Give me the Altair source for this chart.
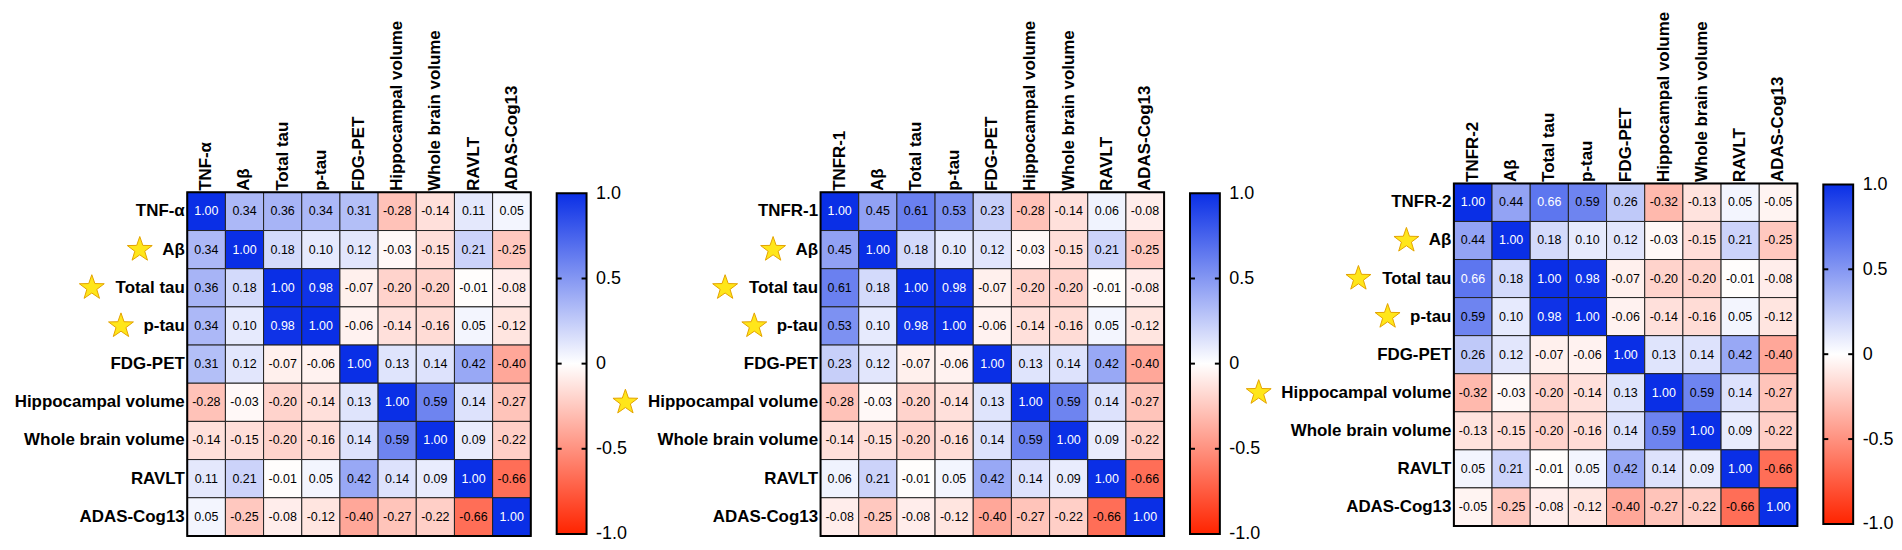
import altair as alt
import pandas as pd

# ---------------- data ----------------
shared_vars = ["Aβ", "Total tau", "p-tau", "FDG-PET", "Hippocampal volume",
               "Whole brain volume", "RAVLT", "ADAS-Cog13"]
shared_corr = [
    [1.00, 0.18, 0.10, 0.12, -0.03, -0.15, 0.21, -0.25],
    [0.18, 1.00, 0.98, -0.07, -0.20, -0.20, -0.01, -0.08],
    [0.10, 0.98, 1.00, -0.06, -0.14, -0.16, 0.05, -0.12],
    [0.12, -0.07, -0.06, 1.00, 0.13, 0.14, 0.42, -0.40],
    [-0.03, -0.20, -0.14, 0.13, 1.00, 0.59, 0.14, -0.27],
    [-0.15, -0.20, -0.16, 0.14, 0.59, 1.00, 0.09, -0.22],
    [0.21, -0.01, 0.05, 0.42, 0.14, 0.09, 1.00, -0.66],
    [-0.25, -0.08, -0.12, -0.40, -0.27, -0.22, -0.66, 1.00],
]
markers = ["TNF-α", "TNFR-1", "TNFR-2"]
tnfa_corr = [0.34, 0.36, 0.34, 0.31, -0.28, -0.14, 0.11, 0.05]
tnfr1_corr = [0.45, 0.61, 0.53, 0.23, -0.28, -0.14, 0.06, -0.08]
tnfr2_corr = [0.44, 0.66, 0.59, 0.26, -0.32, -0.13, 0.05, -0.05]
starred_1 = ["Aβ", "Total tau", "p-tau"]
starred_2 = ["Aβ", "Total tau", "p-tau", "Hippocampal volume"]
starred_3 = ["Aβ", "Total tau", "p-tau", "Hippocampal volume"]
cbar_values = [-1.0, -0.5, 0.0, 0.5, 1.0]

# ---------------- style ----------------
FONT = "Liberation Sans"
LABEL_SIZE = 17
BLUE = "#0a2fe6"
RED = "#ff2400"
STAR = ("M0,-1L0.235,-0.324L0.951,-0.309L0.380,0.124L0.588,0.809L0,0.4"
        "L-0.588,0.809L-0.380,0.124L-0.951,-0.309L-0.235,-0.324Z")
MAT_W = 345
VIEW_H = 354
CB_W = 30
LABEL_PAD = 3
STAR_GAP = 22

# approximate Arial/Liberation Sans Bold advance widths (per 1000 em)
BOLD_W = {'A': 722, 'β': 611, 'T': 611, 'o': 611, 't': 333, 'a': 556, 'l': 278,
          ' ': 278, 'u': 611, 'p': 611, '-': 333, 'H': 722, 'i': 278, 'c': 556,
          'm': 889, 'v': 556, 'e': 556}


def text_width(s, size):
    return sum(BOLD_W.get(ch, 600) for ch in s) / 1000.0 * size


color_scale = alt.Scale(domain=[-1, 0, 1], range=[RED, "#ffffff", BLUE],
                        interpolate="rgb")


def matrix_chart(marker, corr, stars, y_top, y_bot, axis_offset):
    names = [marker] + shared_vars
    recs = []
    for i, r in enumerate(names):
        for j, c in enumerate(names):
            if i == 0 and j == 0:
                v = 1.0
            elif i == 0:
                v = corr[j - 1]
            elif j == 0:
                v = corr[i - 1]
            else:
                v = shared_corr[i - 1][j - 1]
            recs.append({"row": r, "col": c, "v": v, "label": f"{v:.2f}"})
    df = pd.DataFrame(recs)

    xs = alt.Scale(domain=names, paddingInner=0, paddingOuter=0)
    ys = alt.Scale(domain=names, range=[y_top, y_bot], paddingInner=0, paddingOuter=0)
    x = alt.X("col:N", scale=xs, title=None,
              axis=alt.Axis(orient="top", labelAngle=270, ticks=False, tickSize=0,
                            domain=False, labelPadding=2, labelFont=FONT,
                            labelFontSize=LABEL_SIZE, labelFontWeight="bold",
                            labelColor="black", labelLimit=0, offset=axis_offset))
    y = alt.Y("row:N", scale=ys, title=None,
              axis=alt.Axis(orient="left", ticks=False, tickSize=0, domain=False,
                            labelPadding=LABEL_PAD, labelFont=FONT,
                            labelFontSize=LABEL_SIZE, labelFontWeight="bold",
                            labelColor="black", labelLimit=0))

    base = alt.Chart(df)
    cells = base.mark_rect(stroke="#222222", strokeWidth=1).encode(
        x=x, y=y, fill=alt.Fill("v:Q", scale=color_scale, legend=None))
    texts = base.mark_text(font=FONT, fontSize=12.5, baseline="middle",
                           align="center").encode(
        x=x, y=y, text="label:N",
        color=alt.condition(alt.datum.v >= 0.65, alt.value("white"), alt.value("black")))

    star_df = pd.DataFrame({
        "row": stars,
        "sx": [-(LABEL_PAD + text_width(s, LABEL_SIZE) + STAR_GAP) for s in stars],
    })
    star_layer = alt.Chart(star_df).mark_point(
        shape=STAR, size=690, filled=True, fill="#FFE61A", stroke="#E3A200",
        strokeWidth=1, opacity=1).encode(
        x=alt.X("sx:Q", scale=None, axis=None), y=y)

    frame = alt.Chart(pd.DataFrame({"f": [0]})).mark_rect(
        fill="transparent", stroke="black", strokeWidth=2).encode(
        x=alt.value(0), x2=alt.value("width"), y=alt.value(y_top), y2=alt.value(y_bot))

    return alt.layer(cells, texts, frame, star_layer).properties(width=MAT_W, height=VIEW_H)


def cbar_chart(b_top, b_bot):
    ys = alt.Scale(domain=[cbar_values[0], cbar_values[-1]], range=[b_bot, b_top])
    axis = alt.Axis(orient="right", values=cbar_values, ticks=False, tickSize=0,
                    domain=False, grid=False, labelFont=FONT, labelFontSize=18,
                    labelPadding=9, labelFlush=False, labelOverlap=False,
                    labelColor="black",
                    labelExpr="datum.value == 0 ? '0' : (datum.value < 0 ? '-' + format(-datum.value, '.1f') : format(datum.value, '.1f'))")
    grad = alt.LinearGradient(
        gradient="linear", x1=0, x2=0, y1=0, y2=1,
        stops=[alt.GradientStop(offset=0, color=BLUE),
               alt.GradientStop(offset=0.5, color="#ffffff"),
               alt.GradientStop(offset=1, color=RED)])
    bar_df = pd.DataFrame({"lo": [cbar_values[0]], "hi": [cbar_values[-1]]})
    bar = alt.Chart(bar_df).mark_rect(fill=grad, stroke="black", strokeWidth=2).encode(
        x=alt.value(0), x2=alt.value("width"),
        y=alt.Y("lo:Q", scale=ys, title=None, axis=axis), y2="hi:Q")
    tick_df = pd.DataFrame({"t": cbar_values[1:-1]})
    tl = alt.Chart(tick_df).mark_rule(stroke="black", strokeWidth=2).encode(
        x=alt.value(0), x2=alt.value(5),
        y=alt.Y("t:Q", scale=ys, title=None, axis=axis))
    tr = alt.Chart(tick_df).mark_rule(stroke="black", strokeWidth=2).encode(
        x=alt.value(CB_W - 5), x2=alt.value(CB_W),
        y=alt.Y("t:Q", scale=ys, title=None, axis=axis))
    return alt.layer(bar, tl, tr).properties(width=CB_W, height=VIEW_H)


def spacer(w):
    return alt.Chart(pd.DataFrame({"z": [0]})).mark_point(opacity=0).encode(
        x=alt.value(0), y=alt.value(0)).properties(width=w, height=VIEW_H)


m1 = matrix_chart(markers[0], tnfa_corr, starred_1, 9, VIEW_H, -9)
m2 = matrix_chart(markers[1], tnfr1_corr, starred_2, 9, VIEW_H, -9)
m3 = matrix_chart(markers[2], tnfr2_corr, starred_3, 0, VIEW_H - 10, 0)
cb1 = cbar_chart(10, VIEW_H - 2)
cb2 = cbar_chart(10, VIEW_H - 2)
cb3 = cbar_chart(1, VIEW_H - 12)

chart = alt.hconcat(m1, cb1, spacer(183), m2, cb2, spacer(183), m3, cb3,
                    spacing=26, bounds="flush").properties(
    padding={"left": 6, "top": 2, "right": 0, "bottom": 5}
).configure_view(stroke=None)

chart.save("out.html", embed_options={"renderer": "svg", "actions": False})
